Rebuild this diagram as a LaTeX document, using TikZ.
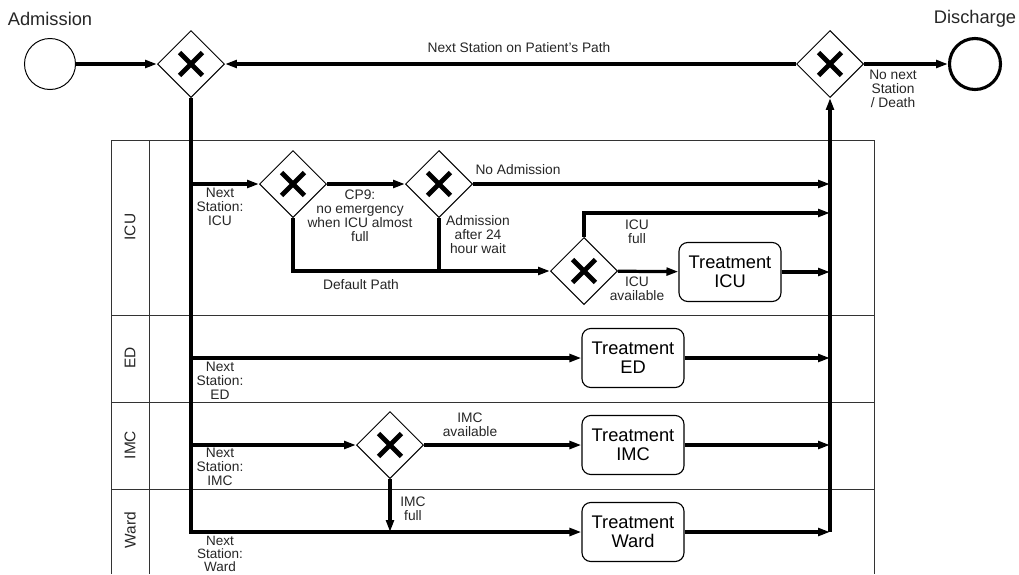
\documentclass[tikz,border=0pt]{standalone}
\usepackage{fontspec}
\setmainfont{Liberation Sans}
\usetikzlibrary{positioning,shapes.geometric,arrows.meta}

\begin{document}
\begin{tikzpicture}[x=0.025cm, y=-0.025cm,
    gateway/.style={diamond, draw, line width=0.7pt, fill=white, inner sep=0pt,
        minimum width=1.675cm, minimum height=1.675cm,
        path picture={\draw[line width=3.4pt, shift={(path picture bounding box.center)}]
            (-0.285cm,-0.285cm) -- (0.285cm,0.285cm) (-0.285cm,0.285cm) -- (0.285cm,-0.285cm);}},
    task/.style={rectangle, rounded corners=0.22cm, draw, line width=0.8pt, fill=white,
        minimum width=2.55cm, minimum height=1.475cm, align=center,
        font=\fontsize{13}{13.5}\selectfont},
    startev/.style={circle, draw, line width=0.7pt, minimum size=1.275cm, inner sep=0pt},
    endev/.style={circle, draw, line width=2.2pt, minimum size=1.275cm, inner sep=0pt},
    flow/.style={line width=2.3pt, -{Triangle[length=8.5pt, width=5.5pt]}},
    seq/.style={line width=2.3pt},
    lane/.style={line width=0.6pt, black!80},
    lbl/.style={align=center, font=\fontsize{9.8}{10}\selectfont, inner sep=0pt, text=black!85},
    title/.style={font=\fontsize{13}{15}\selectfont, text=black!85},
    lanelbl/.style={rotate=90, font=\fontsize{11}{13}\selectfont, text=black!85}]
    \useasboundingbox (0,0) rectangle (1019,574);

    % Pool and lanes
    \draw[lane] (111,574) -- (111,140) -- (874,140) -- (874,574);
    \draw[lane] (149,140) -- (149,574);
    \draw[lane] (111,315) -- (874,315);
    \draw[lane] (111,402) -- (874,402);
    \draw[lane] (111,489) -- (874,489);
    \node[lanelbl] (lnICU) at (130,227) {ICU};
    \node[lanelbl] (lnED) at (130,358) {ED};
    \node[lanelbl] (lnIMC) at (130,445) {IMC};
    \node[lanelbl] (lnWard) at (130,530) {Ward};

    % Events
    \node[startev] (adm) at (50,64) {};
    \node[title] (admlbl) at (50,19) {Admission};
    \node[endev] (dis) at (975,64) {};
    \node[title] (dislbl) at (975,19) {Discharge};

    % Gateways
    \node[gateway] (gin) at (191,64) {};
    \node[gateway] (gout) at (830,64) {};
    \node[gateway] (gcp) at (293,184) {};
    \node[gateway] (gwait) at (439,184) {};
    \node[gateway] (gavail) at (584,271) {};
    \node[gateway] (gimc) at (390,445) {};

    % Tasks
    \node[task] (tICU) at (730,272) {Treatment\\ICU};
    \node[task] (tED) at (633,358) {Treatment\\ED};
    \node[task] (tIMC) at (633,445) {Treatment\\IMC};
    \node[task] (tWard) at (633,532) {Treatment\\Ward};

    % Junctions
    \coordinate (jICU) at (191,184);
    \coordinate (jED) at (191,358);
    \coordinate (jIMC) at (191,445);
    \coordinate (jwait) at (439,271);
    \coordinate (jfull) at (390,532);
    \coordinate (eNoAdm) at (830,184);
    \coordinate (eFull) at (830,213);
    \coordinate (eICU) at (830,272);
    \coordinate (eED) at (830,358);
    \coordinate (eIMC) at (830,445);
    \coordinate (eWard) at (830,532);

    % Flows
    \draw[flow] (adm) -- (gin);
    \draw[flow] (gout) -- (gin);
    \draw[flow] (gout) -- (dis);
    \draw[flow] (gin) |- (tWard);
    \draw[flow] (jICU) -- (gcp);
    \draw[flow] (gcp) -- (gwait);
    \draw[flow] (gwait) -- (eNoAdm);
    \draw[flow] (gcp) |- (gavail);
    \draw[seq] (gwait) -- (jwait);
    \draw[flow] (gavail) |- (eFull);
    \draw[flow] (gavail) -- (tICU);
    \draw[flow] (tICU) -- (eICU);
    \draw[flow] (jED) -- (tED);
    \draw[flow] (tED) -- (eED);
    \draw[flow] (jIMC) -- (gimc);
    \draw[flow] (gimc) -- (tIMC);
    \draw[flow] (tIMC) -- (eIMC);
    \draw[flow] (gimc) -- (jfull);
    \draw[flow] (tWard) -- (eWard);
    \draw[flow] (eWard) -- (gout);

    % Labels
    \node[lbl] (lpath) at (519,48) {Next Station on Patient's Path};
    \node[lbl] (lnonext) at (893,89) {No next\\Station\\/ Death};
    \node[lbl] (lnsICU) at (220,207) {Next\\Station:\\ICU};
    \node[lbl] (lcp) at (360,216) {CP9:\\no emergency\\when ICU almost\\full};
    \node[lbl] (lnoadm) at (518,170) {No Admission};
    \node[lbl] (lwait) at (478,235) {Admission\\after 24\\hour wait};
    \node[lbl] (ldefault) at (361,285) {Default Path};
    \node[lbl] (lfull) at (637,232) {ICU\\full};
    \node[lbl] (lavail) at (637,289) {ICU\\available};
    \node[lbl] (lnsED) at (220,381) {Next\\Station:\\ED};
    \node[lbl] (lnsIMC) at (220,467) {Next\\Station:\\IMC};
    \node[lbl] (limcav) at (470,425) {IMC\\available};
    \node[lbl] (limcfull) at (413,509) {IMC\\full};
    \node[lbl, font=\fontsize{9.6}{9.2}\selectfont] (lnsWard) at (220,554) {Next\\Station:\\Ward};
\end{tikzpicture}
\end{document}
